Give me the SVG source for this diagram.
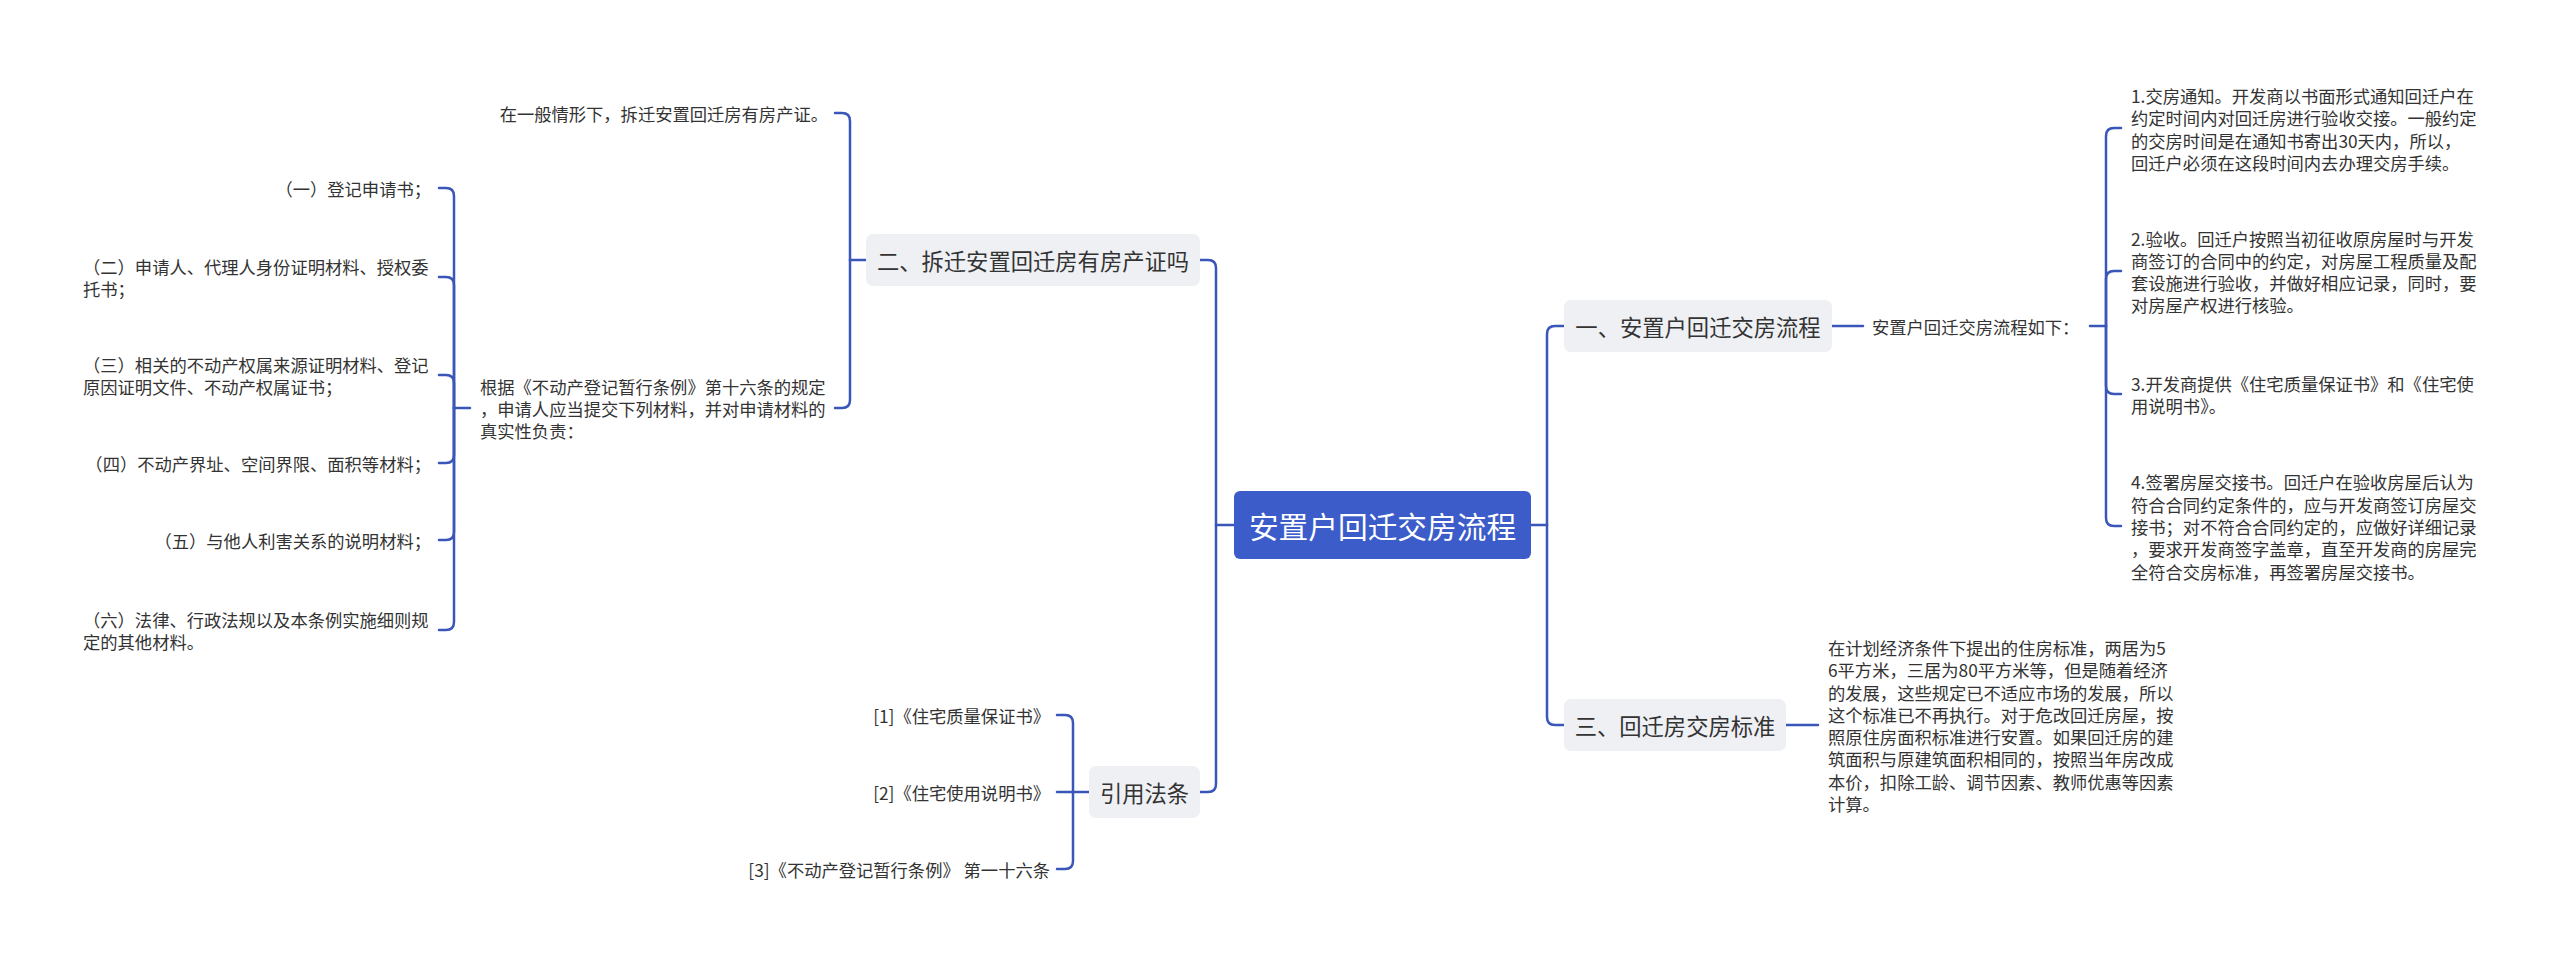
<svg xmlns="http://www.w3.org/2000/svg" width="2560" height="963" viewBox="0 0 2560 963">
<style>
.c{fill:none;stroke:#3a56b8;stroke-width:2.5;stroke-linecap:round}
.t{font-family:"Noto Sans CJK SC","Noto Sans",sans-serif;fill:#333;font-size:17.3px;dominant-baseline:central}
.e{text-anchor:end}
.tp rect{fill:#eef0f4}
.tp text{font-family:"Noto Sans CJK SC","Noto Sans",sans-serif;fill:#333;font-size:22.3px;dominant-baseline:central;text-anchor:middle}
.rt rect{fill:#3b5cc9}
.rt text{font-family:"Noto Sans CJK SC","Noto Sans",sans-serif;fill:#fff;font-size:29.7px;dominant-baseline:central;text-anchor:middle}
</style>
<rect width="2560" height="963" fill="#fff"/>
<g id="connectors">
<path class="c" d="M1234,525 H1216"/>
<path class="c" d="M1216,525 V268 Q1216,260 1208,260 H1200"/>
<path class="c" d="M1216,525 V784 Q1216,792 1208,792 H1200"/>
<path class="c" d="M1531,525 H1547"/>
<path class="c" d="M1547,525 V334 Q1547,326 1555,326 H1564"/>
<path class="c" d="M1547,525 V717 Q1547,725 1555,725 H1564"/>
<path class="c" d="M866,260 H850"/>
<path class="c" d="M850,260 V121 Q850,113 842,113 H835"/>
<path class="c" d="M850,260 V400 Q850,408 842,408 H835"/>
<path class="c" d="M470,408 H454"/>
<path class="c" d="M454,408 V196 Q454,188 446,188 H439"/>
<path class="c" d="M454,408 V285 Q454,277 446,277 H439"/>
<path class="c" d="M454,408 V383 Q454,375 446,375 H439"/>
<path class="c" d="M454,408 V455 Q454,463 446,463 H439"/>
<path class="c" d="M454,408 V532 Q454,540 446,540 H439"/>
<path class="c" d="M454,408 V622 Q454,630 446,630 H439"/>
<path class="c" d="M1089,792 H1073"/>
<path class="c" d="M1073,792 V723 Q1073,715 1065,715 H1057"/>
<path class="c" d="M1073,792 H1057"/>
<path class="c" d="M1073,792 V861 Q1073,869 1065,869 H1057"/>
<path class="c" d="M1832,326 H1863"/>
<path class="c" d="M2090,326 H2106"/>
<path class="c" d="M2106,326 V136 Q2106,128 2114,128 H2121"/>
<path class="c" d="M2106,326 V279 Q2106,271 2114,271 H2121"/>
<path class="c" d="M2106,326 V386 Q2106,394 2114,394 H2121"/>
<path class="c" d="M2106,326 V518 Q2106,526 2114,526 H2121"/>
<path class="c" d="M1786,725 H1818"/>
</g>
<g id="root" class="rt"><rect x="1234" y="491" width="297" height="68" rx="6"/><text x="1382.5" y="525">安置户回迁交房流程</text></g>
<g id="topic2" class="tp"><rect x="866" y="234" width="334" height="52" rx="7"/><text x="1033" y="260">二、拆迁安置回迁房有房产证吗</text></g>
<g id="topicRef" class="tp"><rect x="1089" y="766" width="111" height="52" rx="7"/><text x="1144.5" y="792">引用法条</text></g>
<g id="topic1" class="tp"><rect x="1564" y="300" width="268" height="52" rx="7"/><text x="1698" y="326">一、安置户回迁交房流程</text></g>
<g id="topic3" class="tp"><rect x="1564" y="699" width="222" height="52" rx="7"/><text x="1675" y="725">三、回迁房交房标准</text></g>
<g id="n2a"><text class="t e" x="828" y="113">在一般情形下，拆迁安置回迁房有房产证。</text></g>
<g id="n2b"><text class="t" x="480"><tspan x="480" y="385.7">根据《不动产登记暂行条例》第十六条的规定</tspan><tspan x="480" y="408">，申请人应当提交下列材料，并对申请材料的</tspan><tspan x="480" y="430.3">真实性负责：</tspan></text></g>
<g id="m1"><text class="t e" x="431" y="188">（一）登记申请书；</text></g>
<g id="m2"><text class="t"><tspan x="83" y="265.85">（二）申请人、代理人身份证明材料、授权委</tspan><tspan x="83" y="288.15">托书；</tspan></text></g>
<g id="m3"><text class="t"><tspan x="83" y="363.85">（三）相关的不动产权属来源证明材料、登记</tspan><tspan x="83" y="386.15">原因证明文件、不动产权属证书；</tspan></text></g>
<g id="m4"><text class="t e" x="431" y="463">（四）不动产界址、空间界限、面积等材料；</text></g>
<g id="m5"><text class="t e" x="431" y="540">（五）与他人利害关系的说明材料；</text></g>
<g id="m6"><text class="t"><tspan x="83" y="618.85">（六）法律、行政法规以及本条例实施细则规</tspan><tspan x="83" y="641.15">定的其他材料。</tspan></text></g>
<g id="r1"><text class="t e" x="1050" y="715">[1]《住宅质量保证书》</text></g>
<g id="r2"><text class="t e" x="1050" y="792">[2]《住宅使用说明书》</text></g>
<g id="r3"><text class="t e" x="1050" y="869">[3]《不动产登记暂行条例》 第一十六条</text></g>
<g id="n1a"><text class="t" x="1872" y="326">安置户回迁交房流程如下：</text></g>
<g id="s1"><text class="t"><tspan x="2131" y="95">1.交房通知。开发商以书面形式通知回迁户在</tspan><tspan x="2131" y="117.3">约定时间内对回迁房进行验收交接。一般约定</tspan><tspan x="2131" y="139.6">的交房时间是在通知书寄出30天内，所以，</tspan><tspan x="2131" y="161.9">回迁户必须在这段时间内去办理交房手续。</tspan></text></g>
<g id="s2"><text class="t"><tspan x="2131" y="237.5">2.验收。回迁户按照当初征收原房屋时与开发</tspan><tspan x="2131" y="259.8">商签订的合同中的约定，对房屋工程质量及配</tspan><tspan x="2131" y="282.1">套设施进行验收，并做好相应记录，同时，要</tspan><tspan x="2131" y="304.4">对房屋产权进行核验。</tspan></text></g>
<g id="s3"><text class="t"><tspan x="2131" y="382.85">3.开发商提供《住宅质量保证书》和《住宅使</tspan><tspan x="2131" y="405.15">用说明书》。</tspan></text></g>
<g id="s4"><text class="t"><tspan x="2131" y="481.4">4.签署房屋交接书。回迁户在验收房屋后认为</tspan><tspan x="2131" y="503.7">符合合同约定条件的，应与开发商签订房屋交</tspan><tspan x="2131" y="526">接书；对不符合合同约定的，应做好详细记录</tspan><tspan x="2131" y="548.3">，要求开发商签字盖章，直至开发商的房屋完</tspan><tspan x="2131" y="570.6">全符合交房标准，再签署房屋交接书。</tspan></text></g>
<g id="n3a"><text class="t"><tspan x="1828" y="646.95">在计划经济条件下提出的住房标准，两居为5</tspan><tspan x="1828" y="669.25">6平方米，三居为80平方米等，但是随着经济</tspan><tspan x="1828" y="691.55">的发展，这些规定已不适应市场的发展，所以</tspan><tspan x="1828" y="713.85">这个标准已不再执行。对于危改回迁房屋，按</tspan><tspan x="1828" y="736.15">照原住房面积标准进行安置。如果回迁房的建</tspan><tspan x="1828" y="758.45">筑面积与原建筑面积相同的，按照当年房改成</tspan><tspan x="1828" y="780.75">本价，扣除工龄、调节因素、教师优惠等因素</tspan><tspan x="1828" y="803.05">计算。</tspan></text></g>
</svg>
